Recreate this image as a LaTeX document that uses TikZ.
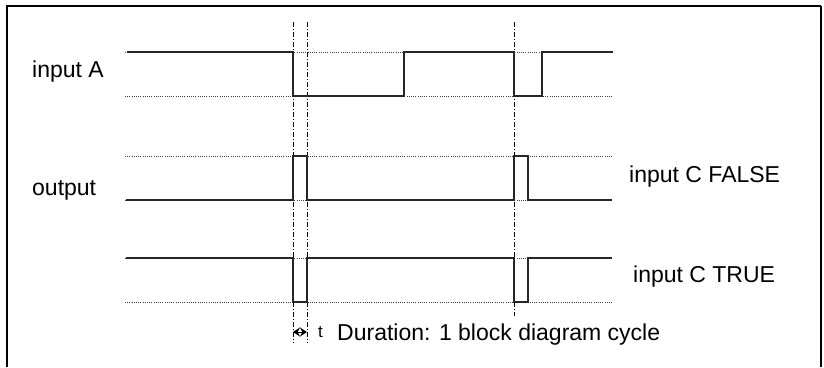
\documentclass[tikz,border=0pt]{standalone}
\usepackage{fontspec}
\setmainfont{Liberation Sans}
\usetikzlibrary{arrows.meta}
\begin{document}
\begin{tikzpicture}[x=1pt,y=-1pt,
  sig/.style={line width=1.4pt, black!85},
  ref/.style={line width=0.8pt, dash pattern=on 1pt off 1.2pt, black!75},
  markline/.style={line width=0.8pt, dash pattern=on 5pt off 2pt on 1pt off 2pt},
  lbl/.style={anchor=base west, inner sep=0pt, font=\fontsize{23}{27}\selectfont},
  small/.style={anchor=base west, inner sep=0pt, font=\fontsize{17}{20}\selectfont}]
\useasboundingbox (0,0) rectangle (824,367);
% frame
\draw[line width=1.5pt] (7,367) -- (7,6) -- (821,6);
\draw[line width=2pt] (821,6) -- (821,367);
% dash-dot markers
\coordinate (m1t) at (293,22); \coordinate (m1b) at (293,343);
\coordinate (m2t) at (307,22); \coordinate (m2b) at (307,343);
\coordinate (m3t) at (514,22); \coordinate (m3b) at (514,316);
\draw[markline] (m1t) -- (m1b);
\draw[markline] (m2t) -- (m2b);
\draw[markline] (m3t) -- (m3b);
% reference levels
\draw[ref] (125,52) -- (613,52);
\draw[ref] (125,96) -- (613,96);
\draw[ref] (125,156) -- (612,156);
\draw[ref] (125,200) -- (612,200);
\draw[ref] (125,258) -- (612,258);
\draw[ref] (125,302) -- (612,302);
% input A
\draw[sig] (127,52) -- (293,52) -- (293,96) -- (404,96) -- (404,52) -- (514,52) -- (514,96) -- (542,96) -- (542,52) -- (613,52);
% output, input C FALSE
\draw[sig] (126,200) -- (293,200) -- (293,156) -- (307,156) -- (307,200) -- (514,200) -- (514,156) -- (528,156) -- (528,200) -- (612,200);
% output, input C TRUE
\draw[sig] (126,258) -- (293,258) -- (293,302) -- (307,302) -- (307,258) -- (514,258) -- (514,302) -- (528,302) -- (528,258) -- (612,258);
% labels
\node[lbl] (la) at (32,77) {input A};
\node[lbl] (lo) at (32,195) {output};
\node[lbl] (lf) at (629,182) {input C FALSE};
\node[lbl] (lt) at (633,282) {input C TRUE};
% duration
\coordinate (d1) at (293,332);
\coordinate (d2) at (307,332);
\draw[line width=1pt, {Stealth[length=7pt,width=9pt]}-{Stealth[length=7pt,width=9pt]}] (d1) -- (d2);
\node[small] (lt2) at (318,337) {t};
\node[lbl] (ld) at (337,340) {Duration: 1 block diagram cycle};
\end{tikzpicture}
\end{document}
